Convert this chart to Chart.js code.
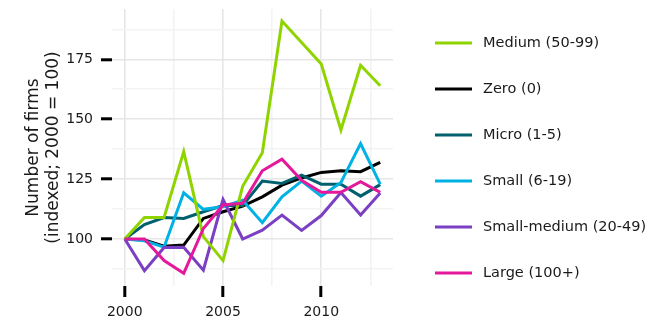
<!DOCTYPE html>
<html>
<head>
<meta charset="utf-8">
<script src="https://cdn.jsdelivr.net/npm/chart.js@4/dist/chart.umd.min.js"></script>
<style>
  html, body { margin: 0; padding: 0; background: #fff; }
  #wrap { width: 668px; height: 321px; position: relative; }
</style>
</head>
<body>
<div id="wrap"><canvas id="chart"></canvas></div>
<script>
// values (index, 2000 = 100)
const years = [2000, 2001, 2002, 2003, 2004, 2005, 2006, 2007, 2008, 2009, 2010, 2011, 2012, 2013];
const medium = [100, 109, 109, 136.5, 101, 91, 122, 136, 191, 182, 173, 145.5, 172.5, 164];
const zero = [100, 99.6, 97, 97.5, 108.6, 111.4, 113.7, 117.6, 122.5, 125.5, 127.8, 128.5, 128.1, 132];
const micro = [100, 106, 109, 108.6, 111.4, 114, 114, 124.2, 123.2, 126.7, 122.9, 122.9, 117.9, 122.7];
const small = [100, 99.3, 96.6, 119.3, 112.4, 113.5, 116.2, 106.8, 117.6, 124.2, 117.9, 123.6, 139.8, 122.9];
const smallMedium = [100, 86.8, 96.5, 96.6, 87, 116.5, 100, 103.7, 110, 103.6, 109.8, 119.4, 110, 119.2];
const large = [100, 100, 91, 85.7, 104.4, 114.2, 114.9, 128.5, 133.3, 124.5, 119.5, 119.5, 123.9, 119.5];

const seriesNames = ['Medium (50-99)', 'Zero (0)', 'Micro (1-5)', 'Small (6-19)', 'Small-medium (20-49)', 'Large (100+)'];
const seriesColors = ['#8fd400', '#000000', '#00606e', '#00b2e3', '#7a3fc2', '#e3189b'];
const seriesOrder = [1, 5, 4, 3, 2, 0]; // large drawn on top

const xTicks = [2000, 2002.5, 2005, 2007.5, 2010, 2012.5];
const xLabels = [2000, 2005, 2010];
const yTicks = [87.5, 100, 112.5, 125, 137.5, 150, 162.5, 175, 187.5];
const yLabels = [100, 125, 150, 175];

const FONT = "'DejaVu Sans', sans-serif";
const TEXT = '#1a1a1a';

// legend sits to the right of the plot, drawn by a small plugin
const LEGEND_GAP = 42;
const LEGEND_LINE = 37;
const LEGEND_TOP = 43;
const LEGEND_STEP = 46;

const toPoints = (vals) => vals.map((v, i) => ({ x: years[i], y: v }));

const datasets = [medium, zero, micro, small, smallMedium, large].map((vals, i) => ({
  label: seriesNames[i],
  data: toPoints(vals),
  borderColor: seriesColors[i],
  backgroundColor: seriesColors[i],
  borderWidth: 3,
  pointRadius: 0,
  tension: 0,
  order: seriesOrder[i]
}));

const isMajor = (list) => (ctx) => ctx.tick && list.includes(ctx.tick.value);

const gridFor = (labels) => ({
  color: (ctx) => isMajor(labels)(ctx) ? '#e6e6e6' : '#f3f3f3',
  lineWidth: 1.6,
  drawTicks: true,
  tickLength: 11,
  tickWidth: 3,
  tickColor: (ctx) => isMajor(labels)(ctx) ? '#000' : 'rgba(0,0,0,0)'
});

const sideLegend = {
  id: 'sideLegend',
  afterDraw(chart) {
    const { ctx, chartArea } = chart;
    const x0 = chartArea.right + LEGEND_GAP;
    ctx.save();
    ctx.font = `14.5px ${FONT}`;
    ctx.textBaseline = 'middle';
    ctx.fillStyle = TEXT;
    chart.data.datasets.forEach((ds, i) => {
      const y = LEGEND_TOP + i * LEGEND_STEP;
      ctx.strokeStyle = ds.borderColor;
      ctx.lineWidth = ds.borderWidth;
      ctx.beginPath();
      ctx.moveTo(x0, y);
      ctx.lineTo(x0 + LEGEND_LINE, y);
      ctx.stroke();
      ctx.fillText(ds.label, x0 + LEGEND_LINE + 11, y);
    });
    ctx.restore();
  }
};

new Chart(document.getElementById('chart'), {
  type: 'line',
  data: { datasets },
  plugins: [sideLegend],
  options: {
    responsive: true,
    maintainAspectRatio: false,
    animation: false,
    layout: { padding: { left: 0, top: 9, bottom: 0, right: 275 } },
    plugins: {
      tooltip: { enabled: false },
      legend: { display: false }
    },
    scales: {
      x: {
        type: 'linear',
        min: 1999.35,
        max: 2013.65,
        afterBuildTicks: (scale) => { scale.ticks = xTicks.map(v => ({ value: v })); },
        afterFit: (scale) => {
          scale.height = 35;
          scale.paddingLeft = 0;
          scale.paddingRight = 0;
        },
        border: { display: false },
        grid: gridFor(xLabels),
        ticks: {
          autoSkip: false,
          maxRotation: 0,
          padding: 7,
          color: TEXT,
          font: { family: FONT, size: 14 },
          callback: (v) => xLabels.includes(v) ? String(v) : ''
        }
      },
      y: {
        type: 'linear',
        min: 80.4,
        max: 196,
        afterBuildTicks: (scale) => { scale.ticks = yTicks.map(v => ({ value: v })); },
        afterFit: (scale) => {
          scale.width = 112;
          scale.paddingTop = 0;
          scale.paddingBottom = 0;
        },
        border: { display: false },
        grid: gridFor(yLabels),
        title: {
          display: true,
          text: ['Number of firms', '(indexed; 2000 = 100)'],
          color: TEXT,
          font: { family: FONT, size: 17, lineHeight: 1.2 },
          padding: { top: 23, bottom: 0 }
        },
        ticks: {
          autoSkip: false,
          padding: 8,
          color: TEXT,
          font: { family: FONT, size: 14 },
          callback: (v) => yLabels.includes(v) ? String(v) : ''
        }
      }
    }
  }
});
</script>
</body>
</html>
